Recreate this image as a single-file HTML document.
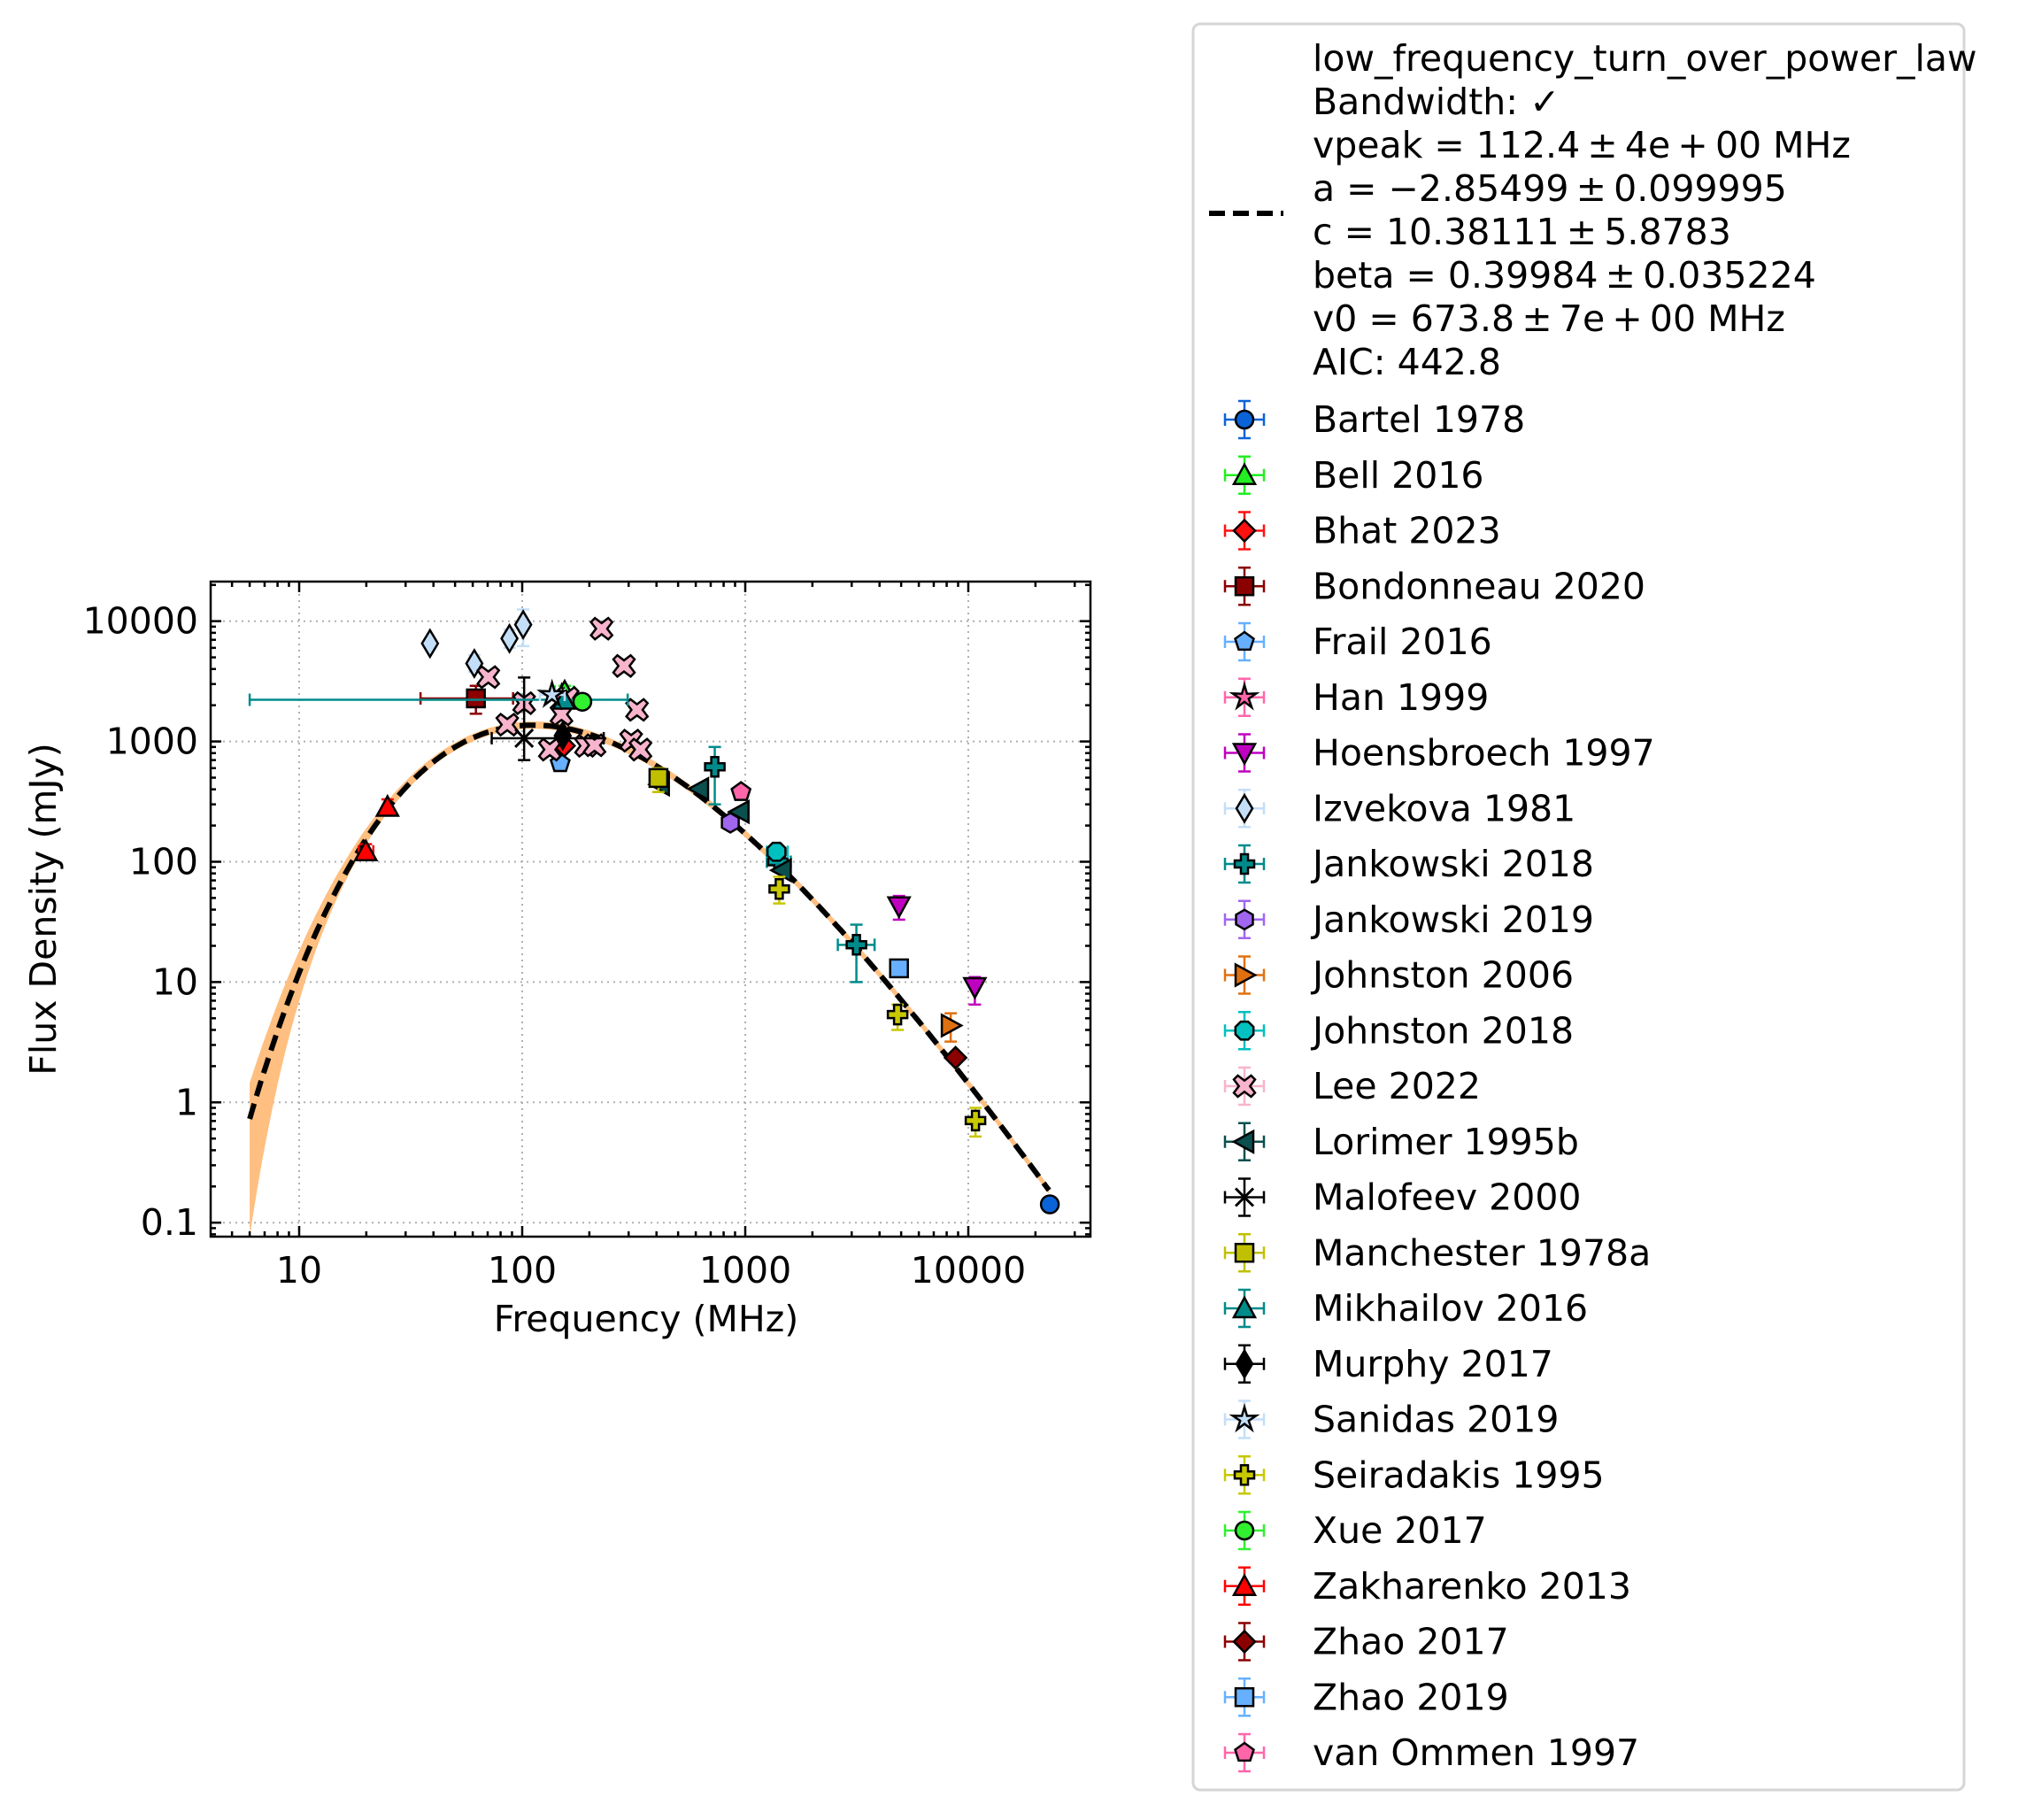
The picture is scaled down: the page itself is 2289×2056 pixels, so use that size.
<!DOCTYPE html>
<html><head><meta charset="utf-8"><style>
html,body{margin:0;padding:0;background:#fff}
svg text{font-family:"DejaVu Sans","Liberation Sans",sans-serif}
</style></head><body>
<svg id="chart" width="2289" height="2051" viewBox="0 0 2289 2051" xmlns="http://www.w3.org/2000/svg">
<rect x="0" y="0" width="2289" height="2051" fill="#fff"/>
<g id="plot"></g>
<g id="legend"></g>
</svg>
<script>
// ---- data ----
const seriesNames = ["Bartel 1978","Bell 2016","Bhat 2023","Bondonneau 2020","Frail 2016","Han 1999","Hoensbroech 1997","Izvekova 1981","Jankowski 2018","Jankowski 2019","Johnston 2006","Johnston 2018","Lee 2022","Lorimer 1995b","Malofeev 2000","Manchester 1978a","Mikhailov 2016","Murphy 2017","Sanidas 2019","Seiradakis 1995","Xue 2017","Zakharenko 2013","Zhao 2017","Zhao 2019","van Ommen 1997"];
const seriesColors = ["#0a64d8","#22ee22","#ff1010","#8b0000","#66b0ff","#ff66aa","#c000c0","#c4def8","#008b8b","#a066f0","#e07010","#00c0c0","#f8b4cc","#0b4f4f","#000000","#c0c000","#008b8b","#000000","#c4def8","#c8c800","#30f030","#ff0000","#8b0000","#66b0ff","#ff66aa"];
const seriesMarkers = ["o","^","D","s","p","*","v","d","P","h",">","8","X","<","x","s","^","d","*","P","o","^","D","s","p"];
// points: series index, frequency (MHz), flux (mJy), error ranges (null = none)
const pointSeries = [0,1,2,3,4,5,6,6,7,7,7,7,8,8,8,9,10,11,12,12,12,12,12,12,12,12,12,12,12,12,12,13,13,13,13,14,15,16,17,18,19,19,19,20,21,21,22,23,24];
const pointFreq   = [23200,155,154,62,148,150,4890,10700,38.6,61,87.7,101,730,3150,1400,857,8340,1380,70.5,85.7,102,133,150,160,193,211,227,286,308,327,339,622,944,1460,415,102,408,154,152,136,1420,4820,10770,186,19.9,24.9,8770,4890,957];
const pointFlux   = [0.142,2600,920,2280,660,2300,42.7,9.1,6520,4450,7170,9360,615,20.4,100,211,4.35,121,3430,1380,2080,855,1680,2300,920,930,8660,4240,1015,1830,855,403,260,85,440,1064,497,2220,1117,2440,59.3,5.37,0.705,2140,122,286,2.35,13.0,380];
const pointFluxLo = [null,2300,null,1700,null,null,33,6.5,null,3800,6000,6200,300,10,85,null,3.2,100,null,null,null,null,null,null,null,null,null,null,null,null,null,null,null,null,null,700,380,null,null,null,45,4,0.52,null,110,250,null,null,null];
const pointFluxHi = [null,2900,null,2900,null,null,52,11,null,5200,8500,12500,900,30,115,null,5.5,135,null,null,null,null,null,null,null,null,null,null,null,null,null,null,null,null,null,3400,600,null,null,null,75,6.5,0.9,null,140,330,null,null,null];
const pointFreqLo = [null,140,null,35,null,null,null,null,null,null,null,null,null,2600,1250,null,null,1250,null,null,null,null,null,null,null,null,null,null,null,null,null,null,null,null,null,73,null,6,null,120,null,null,null,null,18.5,null,null,4500,null];
const pointFreqHi = [null,170,null,91,null,null,null,null,null,null,null,null,null,3800,1600,null,null,1550,null,null,null,null,null,null,null,null,null,null,null,null,null,null,null,null,null,232,null,297,null,155,null,null,null,null,21.5,null,null,5300,null];
// fit parameters: vpeak (MHz), a, c (Jy), beta, v0 (MHz)
const fitParams = [112.4,-2.85499,10.38111,0.39984,673.8];
const fitRange = [6,23000];
const xTickValues = [10,100,1000,10000];
const xTickLabels = ["10","100","1000","10000"];
const yTickValues = [0.1,1,10,100,1000,10000];
const yTickLabels = ["0.1","1","10","100","1000","10000"];
const headerLines = ["low_frequency_turn_over_power_law","Bandwidth: \u2713","vpeak = 112.4\u2009\u00b1\u20094e\u2009+\u200900 MHz","a = \u22122.85499\u2009\u00b1\u20090.099995","c = 10.38111\u2009\u00b1\u20095.8783","beta = 0.39984\u2009\u00b1\u20090.035224","v0 = 673.8\u2009\u00b1\u20097e\u2009+\u200900 MHz","AIC: 442.8"];

// ---- geometry ----
const L=238,R=1232,T=657,B=1397;
const X0=338, XD=252;
const Y0=1245.3, YD=135.9;
function xs(f){return X0+(Math.log10(f)-1)*XD;}
function ys(s){return Y0-Math.log10(s)*YD;}
const NS="http://www.w3.org/2000/svg";
function el(tag,attrs,parent){const e=document.createElementNS(NS,tag);for(const k in attrs)e.setAttribute(k,attrs[k]);parent.appendChild(e);return e;}
const plot=document.getElementById('plot');
const legend=document.getElementById('legend');

const defs=el('defs',{},plot);
const cp=el('clipPath',{id:'clip'},defs);
el('rect',{x:L,y:T,width:R-L,height:B-T},cp);

for(let i=0;i<xTickValues.length;i++){
  const g=el('line',{x1:xs(xTickValues[i]),x2:xs(xTickValues[i]),y1:T,y2:B,stroke:'#b0b0b0','stroke-width':2,'stroke-dasharray':'2,5'},plot);
  
  
}
for(let i=0;i<yTickValues.length;i++){
  const g=el('line',{x1:L,x2:R,y1:ys(yTickValues[i]),y2:ys(yTickValues[i]),stroke:'#b0b0b0','stroke-width':2,'stroke-dasharray':'2,5'},plot);
  
  
}

function model(v){const [vp,a,c,b,v0]=fitParams;return 1000*c*Math.pow(v/v0,a)*Math.exp((a/b)*Math.pow(v/vp,-b));}
const N=300, lf0=Math.log10(fitRange[0]), lf1=Math.log10(fitRange[1]);
let up=[],lo=[],ln=[];
for(let i=0;i<=N;i++){
  const lf=lf0+(lf1-lf0)*i/N, v=Math.pow(10,lf), s=model(v);
  let t=Math.max(0,Math.log10(fitParams[0]/v)/Math.log10(fitParams[0]/fitRange[0]));
  const du=0.27*Math.pow(t,3)+0.03, dl=0.95*Math.pow(t,8)+0.03;
  up.push([xs(v),ys(s)-du*YD]); lo.push([xs(v),ys(s)+dl*YD]); ln.push([xs(v),ys(s)]);
}
const bandD='M'+up.map(p=>p[0].toFixed(1)+','+p[1].toFixed(1)).join('L')+'L'+lo.reverse().map(p=>p[0].toFixed(1)+','+p[1].toFixed(1)).join('L')+'Z';
const band=el('path',{d:bandD,fill:'#ffbf80','clip-path':'url(#clip)'},plot);


const fit=el('path',{d:'M'+ln.map(p=>p[0].toFixed(1)+','+p[1].toFixed(1)).join('L'),fill:'none',stroke:'#000','stroke-width':6,'stroke-dasharray':'18,9','clip-path':'url(#clip)'},plot);



function marker(type,cx,cy,color,parent){
  const r=10, st={fill:color,stroke:'#000','stroke-width':2.5};
  let e;
  const poly=(pts)=>el('polygon',Object.assign({points:pts.map(p=>(cx+p[0]).toFixed(1)+','+(cy+p[1]).toFixed(1)).join(' ')},st),parent);
  const reg=(n,rr,rot)=>{let p=[];for(let k=0;k<n;k++){const a=rot+k*2*Math.PI/n;p.push([rr*Math.cos(a),rr*Math.sin(a)]);}return p;};
  switch(type){
    case 'o': e=el('circle',Object.assign({cx:cx,cy:cy,r:r},st),parent);break;
    case '8': e=poly(reg(8,r+1,Math.PI/8));break;
    case 's': e=el('rect',Object.assign({x:cx-r,y:cy-r,width:2*r,height:2*r},st),parent);break;
    case '^': e=poly([[0,-r-2],[r+2,r],[-r-2,r]]);break;
    case 'v': e=poly([[0,r+2],[r+2,-r],[-r-2,-r]]);break;
    case '>': e=poly([[r+2,0],[-r,r+2],[-r,-r-2]]);break;
    case '<': e=poly([[-r-2,0],[r,r+2],[r,-r-2]]);break;
    case 'D': e=poly([[0,-r-2],[r+2,0],[0,r+2],[-r-2,0]]);break;
    case 'd': e=poly([[0,-r-5],[r-1,0],[0,r+5],[-r+1,0]]);break;
    case 'p': e=poly(reg(5,r+1,-Math.PI/2));break;
    case 'h': e=poly(reg(6,r+1,-Math.PI/2));break;
    case '*': {let p=[];for(let k=0;k<10;k++){const a=-Math.PI/2+k*Math.PI/5,rr=k%2?r*0.5:r+4;p.push([rr*Math.cos(a),rr*Math.sin(a)]);}e=poly(p);break;}
    case 'P': {const a=r+1,b=r*0.4;e=poly([[-b,-a],[b,-a],[b,-b],[a,-b],[a,b],[b,b],[b,a],[-b,a],[-b,b],[-a,b],[-a,-b],[-b,-b]]);break;}
    case 'X': {const a=r+2,w=r*0.45;e=poly([[-a+w,-a],[0,-w*1.4],[a-w,-a],[a,-a+w],[w*1.4,0],[a,a-w],[a-w,a],[0,w*1.4],[-a+w,a],[-a,a-w],[-w*1.4,0],[-a,-a+w]]);break;}
    case 'x': {e=el('g',{},parent);el('line',{x1:cx-r,y1:cy-r,x2:cx+r,y2:cy+r,stroke:color,'stroke-width':3},e);el('line',{x1:cx-r,y1:cy+r,x2:cx+r,y2:cy-r,stroke:color,'stroke-width':3},e);break;}
  }
  return e;
}
function errbar(x1,y1,x2,y2,color,vert,parent){
  el('line',{x1:x1,y1:y1,x2:x2,y2:y2,stroke:color,'stroke-width':2.5},parent);
  const c=7;
  if(vert){el('line',{x1:x1-c,x2:x1+c,y1:y1,y2:y1,stroke:color,'stroke-width':2.5},parent);el('line',{x1:x2-c,x2:x2+c,y1:y2,y2:y2,stroke:color,'stroke-width':2.5},parent);}
  else{el('line',{x1:x1,x2:x1,y1:y1-c,y2:y1+c,stroke:color,'stroke-width':2.5},parent);el('line',{x1:x2,x2:x2,y1:y2-c,y2:y2+c,stroke:color,'stroke-width':2.5},parent);}
}
for(let i=0;i<pointSeries.length;i++){
  const si=pointSeries[i], col=seriesColors[si];
  const g=el('g',{},plot);
  
  
  const x=xs(pointFreq[i]), y=ys(pointFlux[i]);
  if(pointFreqLo[i]!==null) errbar(xs(pointFreqLo[i]),y,xs(pointFreqHi[i]),y,col,false,g);
  if(pointFluxLo[i]!==null) errbar(x,ys(pointFluxHi[i]),x,ys(pointFluxLo[i]),col,true,g);
  marker(seriesMarkers[si],x,y,col,g);
}

const frame=el('rect',{x:L,y:T,width:R-L,height:B-T,fill:'none',stroke:'#000','stroke-width':2.5},plot);


const tg=el('g',{stroke:'#000','stroke-width':2.5},plot);
for(let d=0;d<=4;d++)for(let m=1;m<10;m++){
  const v=m*Math.pow(10,d); const x=xs(v); if(x<L||x>R)continue;
  const len=m===1?12:6;
  el('line',{x1:x,x2:x,y1:B,y2:B-len},tg);el('line',{x1:x,x2:x,y1:T,y2:T+len},tg);
}
for(let d=-2;d<=4;d++)for(let m=1;m<10;m++){
  const v=m*Math.pow(10,d); const y=ys(v); if(y<T||y>B)continue;
  const len=m===1?12:6;
  el('line',{x1:L,x2:L+len,y1:y,y2:y},tg);el('line',{x1:R,x2:R-len,y1:y,y2:y},tg);
}
for(let i=0;i<xTickValues.length;i++){
  const t=el('text',{x:xs(xTickValues[i]),y:B+52,'font-size':41,'text-anchor':'middle'},plot);
  t.textContent=xTickLabels[i];
  
  
}
for(let i=0;i<yTickValues.length;i++){
  const t=el('text',{x:L-14,y:ys(yTickValues[i])+14,'font-size':41,'text-anchor':'end'},plot);
  t.textContent=yTickLabels[i];
  
  
}
const xl=el('text',{x:(L+R)/2-5,y:1504,'font-size':41,'text-anchor':'middle'},plot);
xl.textContent='Frequency (MHz)';


const yl=el('text',{x:0,y:0,'font-size':41,'text-anchor':'middle',transform:'translate(63,'+((T+B)/2)+') rotate(-90)'},plot);
yl.textContent='Flux Density (mJy)';



const lbox=el('rect',{x:1348,y:27,width:871,height:1995,rx:8,fill:'#fff',stroke:'#d5d5d5','stroke-width':3},legend);


const ld=el('line',{x1:1366,x2:1450,y1:241,y2:241,stroke:'#000','stroke-width':6,'stroke-dasharray':'18,9'},legend);


for(let i=0;i<headerLines.length;i++){
  const t=el('text',{x:1483,y:80+49*i,'font-size':41},legend);
  t.textContent=headerLines[i];
  
  
}
for(let i=0;i<seriesNames.length;i++){
  const y=474+62.75*i, col=seriesColors[i];
  const g=el('g',{},legend);
  
  
  errbar(1384,y,1428,y,col,false,g);
  errbar(1406,y-21,1406,y+21,col,true,g);
  marker(seriesMarkers[i],1406,y,col,g);
  const t=el('text',{x:1483,y:y+14,'font-size':41},g);
  t.textContent=seriesNames[i];
}
</script>
</body></html>
